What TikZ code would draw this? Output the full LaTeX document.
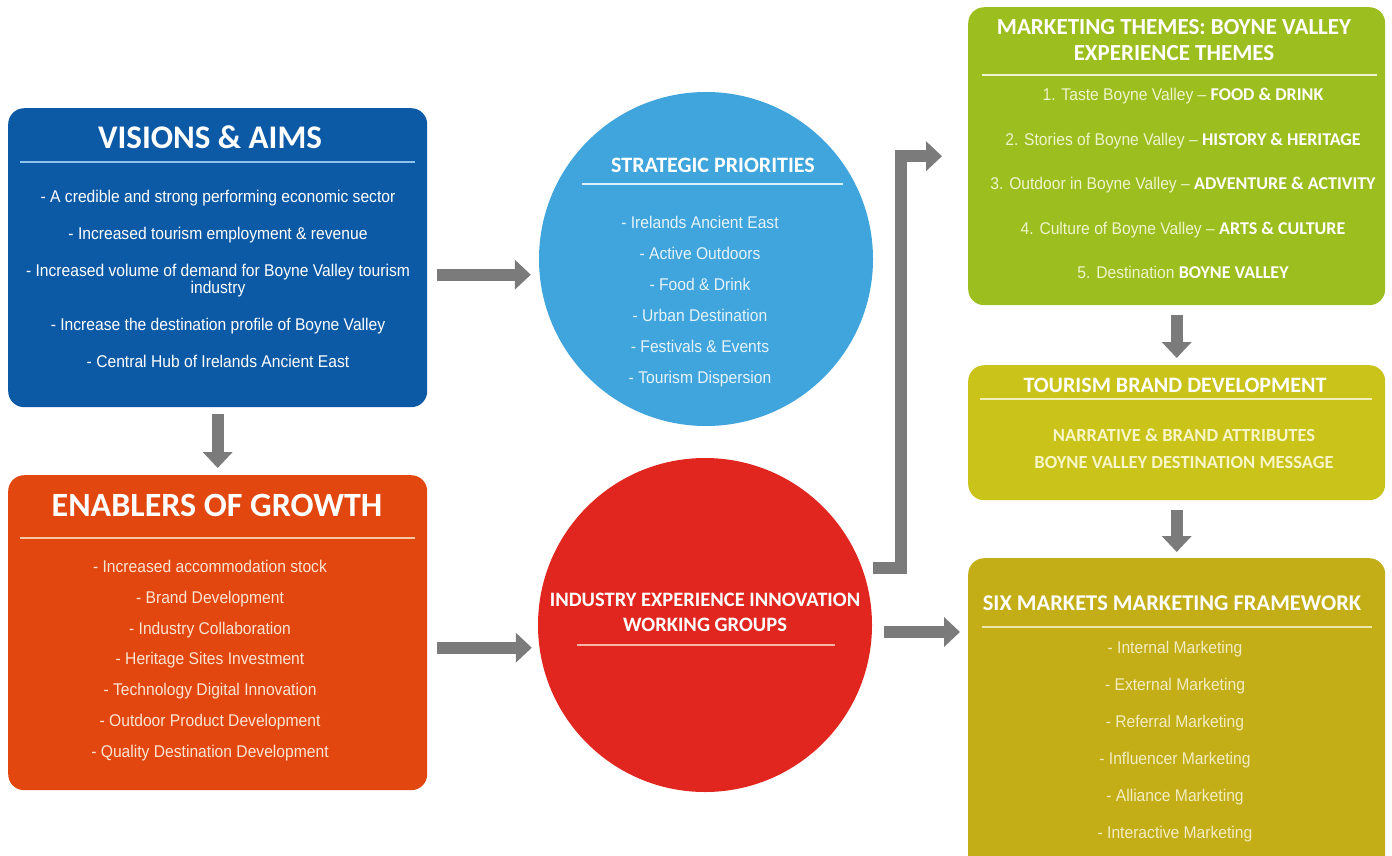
\documentclass[tikz,border=0pt]{standalone}
\usepackage{fontspec}
\setmainfont{Carlito}
\newfontfamily\bodyfont[FakeStretch=0.92]{Liberation Sans}
\usetikzlibrary{arrows.meta,calc}

\definecolor{visblue}{HTML}{0C5AA6}
\definecolor{visline}{HTML}{8EC3F0}
\definecolor{enborange}{HTML}{E1470F}
\definecolor{enbline}{HTML}{F7C6A2}
\definecolor{enbtext}{HTML}{FCE4D2}
\definecolor{stratblue}{HTML}{3FA5DC}
\definecolor{stratline}{HTML}{DDEFFA}
\definecolor{strattext}{HTML}{E6F3FB}
\definecolor{indred}{HTML}{E0261E}
\definecolor{indline}{HTML}{F6B4A4}
\definecolor{themegreen}{HTML}{9DBE1F}
\definecolor{themeline}{HTML}{EEF5D2}
\definecolor{themetext}{HTML}{EEF4CC}
\definecolor{brandyellow}{HTML}{C9C31A}
\definecolor{brandline}{HTML}{F2EFB8}
\definecolor{brandtext}{HTML}{F8F5C6}
\definecolor{sixgold}{HTML}{C3AE17}
\definecolor{sixline}{HTML}{EFE6AE}
\definecolor{sixtext}{HTML}{F3ECC0}
\definecolor{arrowgray}{HTML}{7B7B7B}

\newcommand{\themekey}[1]{{\rmfamily\bfseries\fontsize{18}{17}\selectfont\color{white}#1}}

\tikzset{
  panel/.style={anchor=north west, rounded corners=16pt, inner sep=0pt},
  disc/.style={circle, inner sep=0pt, minimum size=334pt},
  heading/.style={text=white, align=center, inner sep=0pt},
  listtext/.style={anchor=north, align=center, inner sep=0pt,
    font=\bodyfont\fontsize{17}{17}\selectfont},
  divider/.style={line width=1.3pt},
  bigarrow/.style={draw=arrowgray, line width=12pt,
    -{Triangle[width=29pt,length=16pt]}}
}

\begin{document}
\begin{tikzpicture}[x=1pt,y=-1pt]
\useasboundingbox (0,0) rectangle (1392,855);

% left column
\node[panel, fill=visblue, minimum width=419pt, minimum height=299pt] (vis) at (8,108) {};
\node[heading, font=\bfseries\fontsize{33}{36}\selectfont] (vistitle) at (210,137) {VISIONS \& AIMS};
\draw[divider, draw=visline] (20,162) -- (415,162);
\node[listtext, text=white] (vislist) at (218,190) {- A credible and strong performing economic sector\\[20pt]
- Increased tourism employment \& revenue\\[20pt]
- Increased volume of demand for Boyne Valley tourism\\ industry\\[20pt]
- Increase the destination profile of Boyne Valley\\[20pt]
- Central Hub of Irelands Ancient East};

\node[panel, fill=enborange, minimum width=419pt, minimum height=315pt] (enb) at (8,475) {};
\node[heading, font=\bfseries\fontsize{34}{36}\selectfont] (enbtitle) at (217,505) {ENABLERS OF GROWTH};
\draw[divider, draw=enbline] (20,538) -- (415,538);
\node[listtext, text=enbtext] (enblist) at (210,560) {- Increased accommodation stock\\[13.8pt]
- Brand Development\\[13.8pt]
- Industry Collaboration\\[13.8pt]
- Heritage Sites Investment\\[13.8pt]
- Technology Digital Innovation\\[13.8pt]
- Outdoor Product Development\\[13.8pt]
- Quality Destination Development};

% circles
\node[disc, fill=stratblue] (strat) at (706,259) {};
\node[heading, font=\bfseries\fontsize{22}{24}\selectfont] (strattitle) at (713,165) {STRATEGIC PRIORITIES};
\draw[divider, draw=stratline] (582,184) -- (843,184);
\node[listtext, text=strattext] (stratlist) at (700,216) {- Irelands Ancient East\\[14pt]
- Active Outdoors\\[14pt]
- Food \& Drink\\[14pt]
- Urban Destination\\[14pt]
- Festivals \& Events\\[14pt]
- Tourism Dispersion};

\node[disc, fill=indred] (ind) at (705,625) {};
\node[heading, font=\bfseries\fontsize{20.5}{25}\selectfont] (indtitle) at (705,612) {INDUSTRY EXPERIENCE INNOVATION\\WORKING GROUPS};
\draw[divider, draw=indline] (577,645) -- (835,645);

% right column
\node[panel, fill=themegreen, minimum width=417pt, minimum height=298pt] (theme) at (968,7) {};
\node[heading, font=\bfseries\fontsize{23}{26}\selectfont] (themetitle) at (1174,40) {MARKETING THEMES: BOYNE VALLEY\\EXPERIENCE THEMES};
\draw[divider, draw=themeline] (982,75) -- (1377,75);
\node[listtext, text=themetext] (themelist) at (1183,88) {1. Taste Boyne Valley – \themekey{FOOD \& DRINK}\\[27.5pt]
2. Stories of Boyne Valley – \themekey{HISTORY \& HERITAGE}\\[27.5pt]
3. Outdoor in Boyne Valley – \themekey{ADVENTURE \& ACTIVITY}\\[27.5pt]
4. Culture of Boyne Valley – \themekey{ARTS \& CULTURE}\\[27.5pt]
5. Destination \themekey{BOYNE VALLEY}};

\node[panel, fill=brandyellow, minimum width=417pt, minimum height=135pt] (brand) at (968,365) {};
\node[heading, font=\bfseries\fontsize{22}{24}\selectfont] (brandtitle) at (1175,385) {TOURISM BRAND DEVELOPMENT};
\draw[divider, draw=brandline] (980,399) -- (1372,399);
\node[listtext, font=\bfseries\fontsize{18.5}{27}\selectfont, text=brandtext] (brandlist) at (1184,429) {NARRATIVE \& BRAND ATTRIBUTES\\BOYNE VALLEY DESTINATION MESSAGE};

\node[panel, fill=sixgold, minimum width=417pt, minimum height=315pt] (six) at (968,558) {};
\node[heading, font=\bfseries\fontsize{22.5}{24}\selectfont] (sixtitle) at (1172,603) {SIX MARKETS MARKETING FRAMEWORK};
\draw[divider, draw=sixline] (982,627) -- (1372,627);
\node[listtext, text=sixtext] (sixlist) at (1175,641) {- Internal Marketing\\[20pt]
- External Marketing\\[20pt]
- Referral Marketing\\[20pt]
- Influencer Marketing\\[20pt]
- Alliance Marketing\\[20pt]
- Interactive Marketing};

% arrows
\draw[bigarrow, shorten <=10pt, shorten >=8pt] ([yshift=-17pt]vis.east) -- ([yshift=-17pt]vis.east -| strat.west);
\draw[bigarrow, shorten <=7pt, shorten >=7pt] (vis.south) -- (enb.north);
\draw[bigarrow, shorten <=10pt, shorten >=6pt] ([yshift=-15pt]enb.east) -- ([yshift=-15pt]enb.east -| ind.west);
\draw[bigarrow, shorten <=12pt, shorten >=8pt] ([yshift=-7pt]ind.east) -- ([yshift=-7pt]ind.east -| six.west);
\draw[bigarrow] ([xshift=1pt,yshift=57pt]ind.east) -- ++(28,0) |- ([xshift=-26pt]theme.west);
\draw[bigarrow, shorten <=10pt, shorten >=7pt] (theme.south) -- (brand.north);
\draw[bigarrow, shorten <=10pt, shorten >=6pt] (brand.south) -- (six.north);
\end{tikzpicture}
\end{document}
